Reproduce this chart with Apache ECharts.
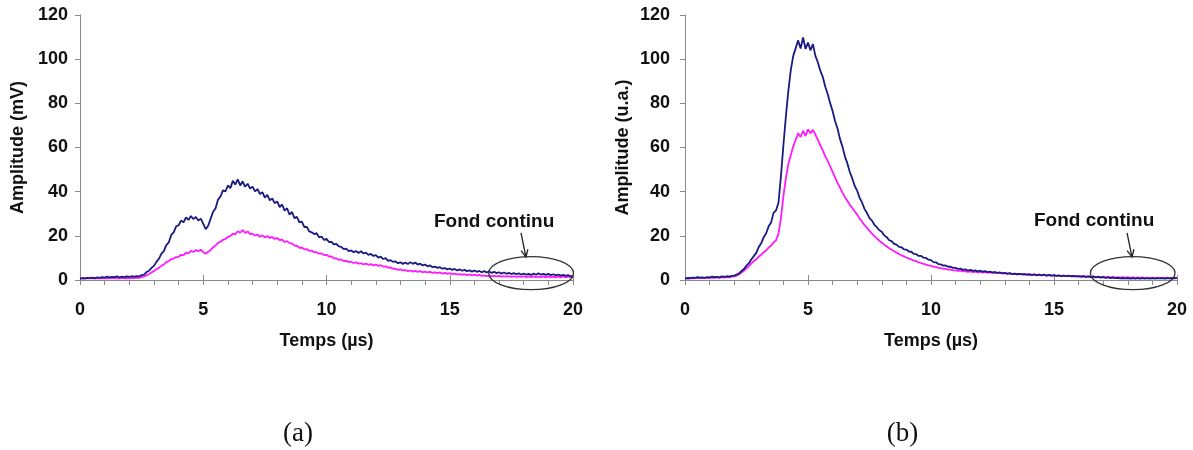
<!DOCTYPE html>
<html>
<head>
<meta charset="utf-8">
<script src="https://cdn.jsdelivr.net/npm/echarts@6/dist/echarts.min.js"></script>
<style>
html,body{margin:0;padding:0;background:#fff;}
#c{width:1193px;height:450px;}
</style>
</head>
<body>
<div id="c"></div>
<script>
// time step of the sampled traces (µs)
var STEP = 0.1;
var X_TICKS = [0, 5, 10, 15, 20];
var Y_TICKS = [0, 20, 40, 60, 80, 100, 120];

// (a) navy trace, t = 0.0 .. 20.0 µs
var A_NAVY = [
0.6,0.9,0.7,1.0,0.8,1.1,0.9,1.2,1.0,1.3,
1.1,1.5,1.2,1.4,1.3,1.6,1.2,1.5,1.3,1.6,
1.4,1.7,1.5,1.8,1.6,2.2,2.4,3.6,4.2,5.5,
6.4,8.2,9.6,11.8,13.1,15.8,17.0,20.4,21.6,24.3,
24.8,26.9,26.1,28.4,27.2,29.0,27.6,28.5,26.9,27.8,
25.4,23.0,24.6,27.8,30.9,32.5,36.4,37.8,40.6,40.1,
42.8,41.6,44.9,43.2,45.6,42.8,44.7,42.2,43.6,41.4,
42.3,40.1,41.2,38.9,39.8,37.3,38.6,36.1,36.9,34.8,
35.6,33.0,34.2,31.4,32.5,29.6,30.8,28.0,28.6,26.1,
26.4,24.0,24.1,22.0,21.6,20.8,21.2,19.3,19.7,18.1,
18.6,17.2,17.3,16.1,16.4,15.2,15.0,14.0,14.2,13.1,
13.4,12.6,13.1,12.2,13.0,12.0,12.4,11.4,11.8,10.9,
11.3,10.1,10.6,9.5,9.9,8.7,9.0,8.2,8.4,7.6,
8.0,7.3,7.9,7.2,8.1,7.3,7.9,7.0,7.4,6.6,
7.0,6.2,6.6,5.8,6.1,5.5,5.8,5.1,5.4,4.8,
5.2,4.6,5.0,4.3,4.8,4.2,4.6,4.0,4.4,3.8,
4.3,3.7,4.1,3.5,4.0,3.4,3.9,3.2,3.7,3.1,
3.5,2.9,3.4,2.8,3.2,2.7,3.1,2.6,3.0,2.5,
2.9,2.4,2.8,2.3,2.9,2.4,3.0,2.4,2.8,2.3,
2.8,2.2,2.6,2.1,2.5,2.0,2.3,1.9,2.2,1.7,
1.8];

// (a) magenta trace
var A_MAGENTA = [
0.5,0.8,0.6,0.9,0.7,0.8,0.6,0.9,0.7,0.8,
0.7,0.9,0.7,1.0,0.8,0.9,0.7,1.0,0.8,0.9,
0.8,1.0,0.8,1.1,0.9,1.3,1.6,2.1,2.7,3.4,
4.1,4.9,5.5,6.4,7.0,8.1,8.6,9.5,9.7,10.4,
10.5,11.4,11.3,12.4,12.1,13.2,12.7,13.6,13.0,13.7,
12.6,11.9,12.8,13.6,14.8,15.6,16.8,17.3,18.2,18.6,
19.5,19.9,21.0,20.7,22.1,21.4,22.6,21.3,22.0,20.8,
21.0,20.1,20.6,19.6,20.2,19.3,19.9,19.0,19.5,18.6,
19.0,18.1,18.3,17.2,17.6,16.7,16.6,15.6,15.5,14.6,
14.7,13.9,14.0,13.2,13.3,12.6,12.6,11.9,12.0,11.3,
11.4,10.6,10.7,9.8,9.8,9.1,9.3,8.6,8.7,8.1,
8.3,7.7,8.0,7.4,7.6,7.1,7.4,6.9,7.2,6.6,
7.0,6.4,6.7,6.1,6.2,5.6,5.7,5.1,5.1,4.6,
4.8,4.3,4.5,4.0,4.3,3.8,4.1,3.7,4.0,3.5,
3.8,3.4,3.7,3.2,3.5,3.1,3.4,2.9,3.2,2.8,
3.1,2.7,2.9,2.5,2.7,2.4,2.6,2.2,2.5,2.1,
2.4,2.0,2.3,1.9,2.1,1.8,2.0,1.7,1.9,1.6,
1.9,1.5,1.8,1.5,1.7,1.4,1.7,1.4,1.6,1.4,
1.7,1.3,1.6,1.3,1.6,1.3,1.5,1.3,1.6,1.2,
1.6,1.2,1.5,1.2,1.5,1.3,1.6,1.2,1.5,1.3,
1.4];

// (b) navy trace
var B_NAVY = [
0.6,0.9,0.8,1.1,1.0,1.3,1.1,1.2,1.0,1.3,
1.2,1.5,1.3,1.4,1.2,1.6,1.4,1.7,1.5,1.9,
2.0,2.5,3.0,4.1,5.0,6.5,7.6,9.4,10.9,12.3,
15.0,16.6,19.4,21.2,24.3,26.0,30.4,31.5,35.0,47.0,
61.0,74.0,85.5,95.0,101.5,105.0,108.5,104.8,109.8,104.6,
107.5,104.0,106.8,101.5,98.6,94.8,92.0,87.6,84.2,80.1,
76.5,72.0,68.6,63.9,60.4,56.0,52.8,48.9,46.0,42.6,
40.4,37.2,35.0,32.1,30.3,28.0,26.9,25.0,23.9,22.5,
21.8,20.2,19.4,18.0,17.6,16.4,16.0,15.0,14.8,13.9,
13.8,12.9,12.8,11.8,11.7,10.9,10.9,10.1,10.0,9.2,
9.0,8.1,8.0,7.2,7.1,6.5,6.6,6.0,6.0,5.5,
5.5,5.0,5.2,4.6,4.8,4.3,4.6,4.1,4.4,3.9,
4.2,3.8,4.0,3.6,3.8,3.4,3.6,3.2,3.4,3.0,
3.2,2.9,3.1,2.7,2.9,2.6,2.8,2.5,2.7,2.4,
2.6,2.3,2.5,2.2,2.4,2.1,2.4,2.0,2.3,2.0,
2.2,1.9,2.1,1.8,2.0,1.7,2.0,1.7,1.9,1.6,
1.8,1.5,1.7,1.4,1.6,1.3,1.5,1.2,1.4,1.1,
1.3,1.0,1.2,0.9,1.1,0.8,1.0,0.7,0.9,0.7,
0.9,0.6,0.9,0.6,0.8,0.6,0.9,0.6,0.8,0.6,
0.9,0.6,0.8,0.7,0.9,0.6,0.8,0.7,0.9,0.7,
0.9];

// (b) magenta trace
var B_MAGENTA = [
0.6,0.8,0.7,0.9,0.8,1.0,0.8,1.0,0.9,1.1,
0.9,1.1,1.0,1.2,1.0,1.3,1.1,1.3,1.2,1.5,
1.6,2.0,2.6,3.4,4.2,5.3,6.3,7.5,8.6,9.4,
10.6,11.4,12.6,13.4,14.7,15.5,17.0,18.0,21.0,28.0,
38.0,46.0,52.5,56.5,60.5,63.5,66.5,64.8,67.6,65.2,
68.2,66.4,68.0,65.8,63.5,61.0,58.8,56.0,54.0,51.4,
49.0,46.5,44.0,41.8,39.6,37.5,35.9,34.0,32.6,31.0,
29.6,27.8,26.4,24.8,23.6,22.2,21.0,19.9,18.8,17.8,
16.9,16.0,15.2,14.4,13.7,13.0,12.4,11.8,11.2,10.7,
10.2,9.7,9.3,8.8,8.5,8.0,7.7,7.3,7.0,6.6,
6.4,6.0,5.9,5.5,5.4,5.1,5.0,4.7,4.7,4.4,
4.4,4.1,4.2,3.9,4.0,3.7,3.9,3.6,3.8,3.5,
3.7,3.4,3.6,3.3,3.5,3.2,3.4,3.1,3.3,3.0,
3.1,2.8,3.0,2.7,2.9,2.6,2.8,2.5,2.7,2.4,
2.5,2.2,2.4,2.1,2.4,2.1,2.3,2.0,2.2,1.9,
2.1,1.9,2.0,1.8,2.0,1.7,1.9,1.6,1.8,1.6,
1.8,1.5,1.7,1.5,1.6,1.4,1.6,1.3,1.5,1.3,
1.5,1.2,1.4,1.2,1.4,1.1,1.3,1.1,1.3,1.1,
1.3,1.0,1.2,1.0,1.2,1.0,1.2,0.9,1.1,0.9,
1.1,0.9,1.1,0.9,1.0,0.9,1.1,0.8,1.0,0.9,
1.0];

var PANEL_LABELS = ['(a)', '(b)'];
var Y_NAMES = ['Amplitude (mV)', 'Amplitude (u.a.)'];
var X_NAME = 'Temps (\u00b5s)';
var NOTE = 'Fond continu';

var NAVY = '#1a1a80';
var MAGENTA = '#ff1aff';
var AXIS_GRAY = '#8a8a8a';
var FONT = 'Liberation Sans, Arial, sans-serif';

function pairs(vals) {
  return vals.map(function (v, i) { return [Math.round(i * STEP * 10) / 10, v]; });
}

var chart = echarts.init(document.getElementById('c'), null, {renderer: 'canvas'});

var grids = [
  {left: 80, top: 15, width: 493, height: 265},
  {left: 685, top: 15, width: 492, height: 265}
];

function xMain(g) {
  return {
    type: 'value', gridIndex: g, min: 0, max: 20, interval: 5,
    name: X_NAME, nameLocation: 'middle', nameGap: 52,
    nameTextStyle: {fontFamily: FONT, fontWeight: 'bold', fontSize: 18, color: '#111'},
    axisLine: {show: true, onZero: false, lineStyle: {color: AXIS_GRAY, width: 1}},
    axisTick: {show: true, inside: false, length: 5, lineStyle: {color: AXIS_GRAY}},
    minorTick: {show: true, splitNumber: 5, length: 5, lineStyle: {color: AXIS_GRAY}},
    axisLabel: {fontFamily: FONT, fontWeight: 'bold', fontSize: 18, color: '#111', margin: 21},
    splitLine: {show: false}
  };
}
function xInner(g) {
  return {
    type: 'value', gridIndex: g, min: 0, max: 20, interval: 5, position: 'bottom',
    axisLine: {show: false},
    axisTick: {show: true, inside: true, length: 5, lineStyle: {color: AXIS_GRAY}},
    axisLabel: {show: false}, splitLine: {show: false}
  };
}
function yAx(g, name, margin) {
  return {
    type: 'value', gridIndex: g, min: 0, max: 120, interval: 20,
    name: name, nameLocation: 'middle', nameGap: 53, nameRotate: 90,
    nameTextStyle: {fontFamily: FONT, fontWeight: 'bold', fontSize: 18, color: '#111'},
    axisLine: {show: true, lineStyle: {color: AXIS_GRAY, width: 1}},
    axisTick: {show: true, inside: false, length: 5, lineStyle: {color: AXIS_GRAY}},
    axisLabel: {fontFamily: FONT, fontWeight: 'bold', fontSize: 18, color: '#111', margin: margin},
    splitLine: {show: false}
  };
}
function line(xi, yi, vals, color) {
  return {
    type: 'line', xAxisIndex: xi, yAxisIndex: yi, data: pairs(vals),
    showSymbol: false, symbol: 'none', animation: false,
    lineStyle: {color: color, width: 1.8}, z: color === NAVY ? 3 : 2
  };
}

chart.setOption({
  animation: false,
  backgroundColor: '#fff',
  grid: grids,
  xAxis: [xMain(0), xInner(0), xMain(1), xInner(1)],
  yAxis: [yAx(0, Y_NAMES[0], 12), yAx(1, Y_NAMES[1], 15)],
  series: [
    line(0, 0, A_NAVY, NAVY),
    line(0, 0, A_MAGENTA, MAGENTA),
    line(2, 1, B_NAVY, NAVY),
    line(2, 1, B_MAGENTA, MAGENTA)
  ]
});

// annotations placed in data coordinates of each panel
var NOTE_POS = [[16.8, 26.3], [16.63, 26.7]];
var ARROW_TAIL = [[17.89, 21.3], [17.97, 21.3]];
var ARROW_TIP = [[18.09, 10.4], [18.17, 10.4]];
var ELLIPSE_C = [[18.3, 3.1], [18.2, 3.1]];
var ELLIPSE_R = [1.72, 7.5]; // half-width in µs, half-height in amplitude units

var gfx = [];
[[0, 0], [2, 1]].forEach(function (ax, k) {
  var cv = function (p) { return chart.convertToPixel({xAxisIndex: ax[0], yAxisIndex: ax[1]}, p); };
  var tp = cv(NOTE_POS[k]);
  gfx.push({type: 'text', x: tp[0], y: tp[1], z: 10,
    style: {text: NOTE, fontFamily: FONT, fontWeight: 'bold', fontSize: 19, fill: '#111', align: 'center', verticalAlign: 'middle'}});
  var a = cv(ARROW_TAIL[k]), b = cv(ARROW_TIP[k]);
  gfx.push({type: 'line', z: 10, shape: {x1: a[0], y1: a[1], x2: b[0], y2: b[1]}, style: {stroke: '#222', lineWidth: 1.3}});
  var ang = Math.atan2(b[1] - a[1], b[0] - a[0]);
  var L = 8, s = 0.45;
  gfx.push({type: 'polyline', z: 10, shape: {points: [
    [b[0] - L * Math.cos(ang - s), b[1] - L * Math.sin(ang - s)],
    [b[0], b[1]],
    [b[0] - L * Math.cos(ang + s), b[1] - L * Math.sin(ang + s)]
  ]}, style: {stroke: '#222', lineWidth: 1.3, fill: null}});
  var c = cv(ELLIPSE_C[k]);
  var e1 = cv([ELLIPSE_C[k][0] + ELLIPSE_R[0], ELLIPSE_C[k][1] + ELLIPSE_R[1]]);
  gfx.push({type: 'ellipse', z: 10, shape: {cx: c[0], cy: c[1], rx: Math.abs(e1[0] - c[0]), ry: Math.abs(e1[1] - c[1])},
    style: {stroke: '#333', lineWidth: 1.3, fill: null}});
  var mid = cv([8.8, 0]);
  gfx.push({type: 'text', x: mid[0] + 1, y: 434, z: 10,
    style: {text: PANEL_LABELS[k], fontFamily: 'Liberation Serif, Times New Roman, serif', fontSize: 27, fill: '#111', align: 'center', verticalAlign: 'middle'}});
});
chart.setOption({graphic: gfx});
</script>
</body>
</html>
